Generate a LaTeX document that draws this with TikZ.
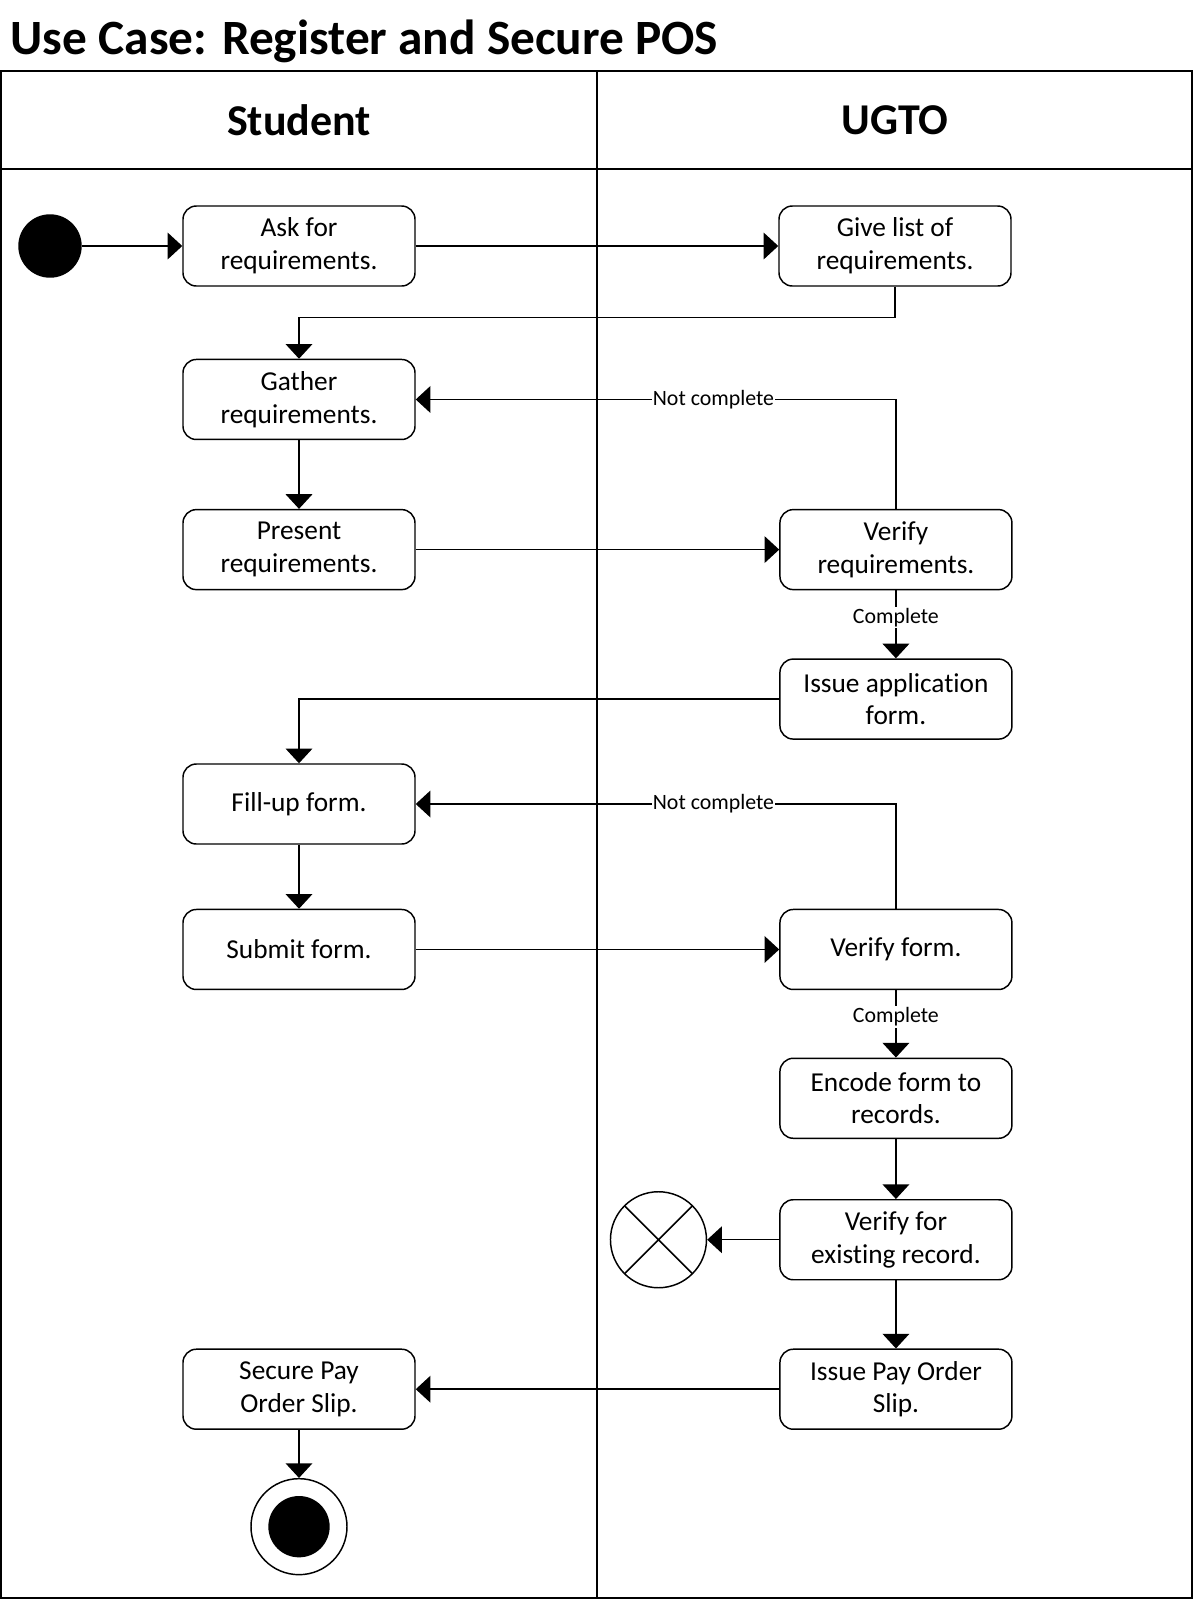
\documentclass[tikz,border=0pt]{standalone}
\usepackage{fontspec}
\setmainfont{Carlito}[Ligatures=NoCommon]
\usetikzlibrary{positioning, arrows.meta}

\begin{document}
\begin{tikzpicture}[x=0.75pt, y=-0.75pt, line width=1.1pt, -{Triangle[length=11pt, width=20pt]},
        act/.style={draw, rounded corners=10pt, minimum width=174pt, minimum height=60pt, inner sep=2pt, align=center, font=\fontsize{20.5}{24.5}\selectfont},
        lbl/.style={fill=white, inner sep=1pt, font=\fontsize{16.4}{19}\selectfont},
        lane/.style={font=\bfseries\fontsize{33}{40}\selectfont}]
        \useasboundingbox (0,0) rectangle (1194,1600);
        % swimlanes
        \draw[-, line width=1.4pt] (1,71) rectangle (1192,1598);
        \draw[-, line width=1.4pt] (1,169) -- (1192,169);
        \draw[-, line width=1.4pt] (597,71) -- (597,1598);
        \node[anchor=base west, inner sep=0, font=\bfseries\fontsize{37}{44}\selectfont] (title) at (10,54) {Use Case: Register and Secure POS};
        \node[lane] (student) at (299,120) {Student};
        \node[lane] (ugto) at (895,120) {UGTO};

        \node[circle, draw, fill, minimum size=46.5pt, inner sep=0] (init) at (50,246) {};
        \node[act] (ask) at (299,246) {Ask for\\requirements.};
        \node[act] (give) at (895,246) {Give list of\\requirements.};
        \node[act] (gather) [below=54pt of ask] {Gather\\requirements.};
        \node[act] (present) [below=51.5pt of gather] {Present\\requirements.};
        \node[act] (verreq) [right=272.6pt of present] {Verify\\requirements.};
        \node[act] (issue) [below=51pt of verreq] {Issue application\\form.};
        \node[act] (fill) at (299,804) {Fill-up form.};
        \node[act] (submit) [below=48pt of fill] {Submit form.};
        \node[act] (verform) [right=272.6pt of submit] {Verify form.};
        \node[act] (encode) [below=50.5pt of verform] {Encode form to\\records.};
        \node[act] (verex) [below=45pt of encode] {Verify for\\existing record.};
        \node[act] (issuepay) [below=51pt of verex] {Issue Pay Order\\Slip.};
        \node[act] (secure) [left=272.6pt of issuepay] {Secure Pay\\Order Slip.};
        \node[circle, draw, minimum size=72pt, inner sep=0,
            path picture={\draw[-] (path picture bounding box.center) ++(45:36pt) -- ++(225:72pt)
                (path picture bounding box.center) ++(135:36pt) -- ++(-45:72pt);}] (flowend) [left=54pt of verex] {};
        \node[circle, draw, minimum size=72pt, inner sep=0,
            path picture={\fill (path picture bounding box.center) circle (23pt);}] (final) [below=36pt of secure] {};

        \path (init) edge (ask);
        \path (ask) edge (give);
        \draw (give.south) -- ++(0,31) -| (gather.north);
        \path (gather) edge (present);
        \path (present) edge (verreq);
        \draw (verreq.north) |- node[lbl, pos=0.69] {Not complete} (gather.east);
        \path (verreq) edge node[lbl, pos=0.4] {Complete} (issue);
        \draw (issue.west) -| (fill.north);
        \path (fill) edge (submit);
        \path (submit) edge (verform);
        \draw (verform.north) |- node[lbl, pos=0.69] {Not complete} (fill.east);
        \path (verform) edge node[lbl, pos=0.4] {Complete} (encode);
        \path (encode) edge (verex);
        \path (verex) edge (flowend);
        \path (verex) edge (issuepay);
        \path (issuepay) edge (secure);
        \path (secure) edge (final);
    \end{tikzpicture}
\end{document}
